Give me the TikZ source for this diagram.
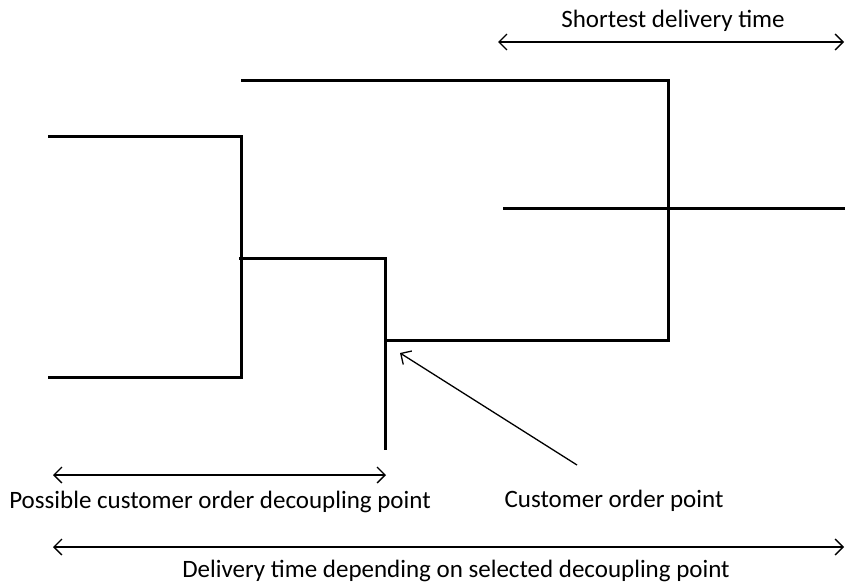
\documentclass[tikz,border=0pt]{standalone}
\usepackage{fontspec}
\setmainfont{Carlito}
\usepackage{tikz}
\usetikzlibrary{arrows.meta}
\tikzstyle{flow} = [line width=3pt]
\tikzstyle{span} = [line width=1.3pt, {Straight Barb[length=8pt,width=16pt,line width=1.3pt]}-{Straight Barb[length=8pt,width=16pt,line width=1.3pt]}]
\tikzstyle{pointer} = [line width=1.3pt, -{Straight Barb[length=8pt,width=16pt,line width=1.3pt]}]
\tikzstyle{label} = [font=\fontsize{25}{28}\selectfont, inner sep=0pt, anchor=base]

\begin{document}
\begin{tikzpicture}[x=1pt, y=-1pt]
	\useasboundingbox (0,0) rectangle (845,586);
	% process lines
	\draw[flow] (48,136) -- (241,136) -- (241,377) -- (48,377);
	\draw[flow] (241,80) -- (668,80) -- (668,340) -- (385,340);
	\draw[flow] (239,258) -- (385,258) -- (385,450);
	\draw[flow] (503,208) -- (845,208);
	% time spans
	\coordinate (s1) at (498,42);
	\coordinate (s2) at (844,42);
	\draw[span] (s1) -- (s2);
	\node[label] (shortest) at (673,28) {Shortest delivery time};
	\coordinate (p1) at (53,475);
	\coordinate (p2) at (386,475);
	\draw[span] (p1) -- (p2);
	\node[label] (possible) at (220,508) {Possible customer order decoupling point};
	\coordinate (d1) at (53,547);
	\coordinate (d2) at (844,547);
	\draw[span] (d1) -- (d2);
	\node[label] (delivery) at (456,577) {Delivery time depending on selected decoupling point};
	% customer order point
	\node[label] (cop) at (614,507) {Customer order point};
	\coordinate (tail) at (577,465);
	\coordinate (tip) at (400,353);
	\draw[pointer] (tail) -- (tip);
\end{tikzpicture}
\end{document}
